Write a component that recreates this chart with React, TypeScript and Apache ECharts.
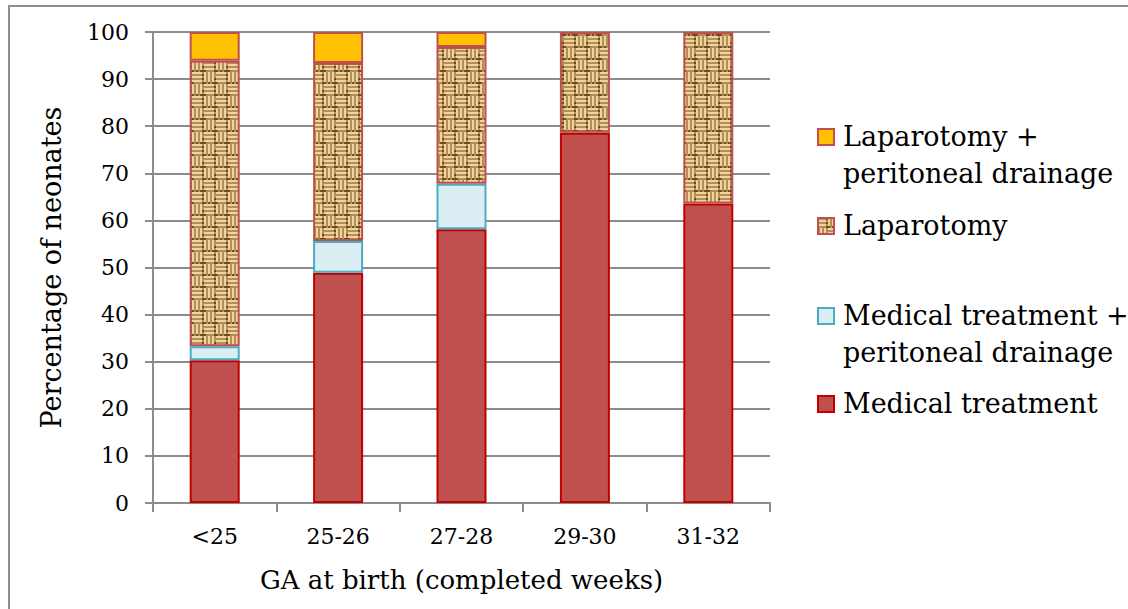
import React, { useEffect, useRef } from "react";
import * as echarts from "echarts";

const categories = ["<25", "25-26", "27-28", "29-30", "31-32"];
const medicalTreatment = [30.3, 48.9, 58.1, 78.6, 63.6];
const medicalPlusDrainage = [3.0, 6.7, 9.7, 0, 0];
const laparotomy = [60.6, 37.8, 29.0, 21.4, 36.4];
const laparotomyPlusDrainage = [6.1, 6.6, 3.2, 0, 0];
const yTicks = { min: 0, max: 100, interval: 10 };

const legendLabels = {
  lapPD: "Laparotomy +\nperitoneal drainage",
  lap: "Laparotomy",
  medPD: "Medical treatment +\nperitoneal drainage",
  med: "Medical treatment",
};

function makeTexture(): string {
  const tile = [
    "LLLLLMLMLMLM",
    "MMMMMDLMLMLM",
    "LLLLLMLMLMLM",
    "MMMMMDLMLMLD",
    "LLLLLMLMLMLM",
    "DMMMMDDMDMDD",
    "LMLMLMLLLLLM",
    "LMLMLMMMMMMD",
    "LMLMLMLLLLLM",
    "LMLMLDMMMMMD",
    "LMLMLMLLLLLM",
    "DMDMDDDMMMMD",
  ];
  const colors: Record<string, string> = { L: "#EED5A0", M: "#B48E55", D: "#6A4C25" };
  const s = 2;
  const c = document.createElement("canvas");
  c.width = 12 * s;
  c.height = 12 * s;
  const ctx = c.getContext("2d");
  if (ctx) {
    for (let y = 0; y < 12; y++) {
      for (let x = 0; x < 12; x++) {
        ctx.fillStyle = colors[tile[y][x]];
        ctx.fillRect(x * s, y * s, s, s);
      }
    }
  }
  return c.toDataURL();
}

const nz = (arr: number[]) => arr.map((v) => (v === 0 ? null : v));

export default function App() {
  const ref = useRef<HTMLDivElement>(null);
  useEffect(() => {
    document.body.style.margin = "0";
    if (!ref.current) return;
    const chart = echarts.init(ref.current, undefined, { renderer: "svg" });
    const tex = makeTexture();
    const texFill: any = { image: tex, repeat: "repeat", imageWidth: 24, imageHeight: 24 };
    const font = "DejaVu Serif";

    const legendItems = [
      { label: legendLabels.lapPD, fill: "#FFC000", stroke: "#C0504D", cy: 137 },
      { label: legendLabels.lap, fill: texFill, stroke: "#C0504D", cy: 226 },
      { label: legendLabels.medPD, fill: "#DAEEF3", stroke: "#4BACC6", cy: 316 },
      { label: legendLabels.med, fill: "#C0504D", stroke: "#C00000", cy: 404 },
    ];
    const graphics: any[] = [
      {
        type: "rect",
        shape: { x: 9, y: 6, width: 1300, height: 800 },
        style: { fill: "none", stroke: "#8E8E8E", lineWidth: 2 },
        silent: true,
      },
    ];
    legendItems.forEach((it) => {
      graphics.push({
        type: "rect",
        shape: { x: 818, y: it.cy - 8, width: 16, height: 16 },
        style: { fill: it.fill, stroke: it.stroke, lineWidth: 2 },
      });
      graphics.push({
        type: "text",
        x: 843,
        y: it.cy - 19,
        style: {
          text: it.label,
          font: `27px "${font}"`,
          fill: "#000",
          lineHeight: 37,
          textVerticalAlign: "top",
          verticalAlign: "top",
          align: "left",
        },
      });
    });

    const barW = 50;
    chart.setOption({
      animation: false,
      grid: { left: 153, top: 32, right: 358, bottom: 106, containLabel: false },
      xAxis: {
        type: "category",
        data: categories,
        name: "GA at birth (completed weeks)",
        nameLocation: "middle",
        nameGap: 64,
        nameTextStyle: { fontFamily: font, fontSize: 26, color: "#000" },
        axisLine: { lineStyle: { color: "#8C8C8C", width: 2 } },
        axisTick: { show: true, length: 9, lineStyle: { color: "#8C8C8C", width: 2 } },
        axisLabel: { fontFamily: font, fontSize: 22, color: "#000", margin: 22 },
      },
      yAxis: {
        type: "value",
        min: yTicks.min,
        max: yTicks.max,
        interval: yTicks.interval,
        name: "Percentage of neonates",
        nameLocation: "middle",
        nameGap: 88,
        nameTextStyle: { fontFamily: font, fontSize: 27, color: "#000" },
        axisLine: { show: true, lineStyle: { color: "#8C8C8C", width: 2 } },
        axisTick: { show: true, length: 8, lineStyle: { color: "#8C8C8C", width: 2 } },
        axisLabel: { fontFamily: font, fontSize: 22, color: "#000", margin: 24 },
        splitLine: { lineStyle: { color: "#8C8C8C", width: 2 } },
      },
      series: [
        {
          name: "Medical treatment",
          type: "bar",
          stack: "t",
          barWidth: barW,
          data: nz(medicalTreatment),
          itemStyle: { color: "#C0504D", borderColor: "#C00000", borderWidth: 2 },
        },
        {
          name: "Medical treatment + peritoneal drainage",
          type: "bar",
          stack: "t",
          barWidth: barW,
          data: nz(medicalPlusDrainage),
          itemStyle: { color: "#DAEEF3", borderColor: "#4BACC6", borderWidth: 2 },
        },
        {
          name: "Laparotomy",
          type: "bar",
          stack: "t",
          barWidth: barW,
          data: nz(laparotomy),
          itemStyle: { color: texFill, borderColor: "#C0504D", borderWidth: 2 },
        },
        {
          name: "Laparotomy + peritoneal drainage",
          type: "bar",
          stack: "t",
          barWidth: barW,
          data: nz(laparotomyPlusDrainage),
          itemStyle: { color: "#FFC000", borderColor: "#C0504D", borderWidth: 2 },
        },
      ],
      graphic: graphics,
    });
    return () => chart.dispose();
  }, []);
  return <div ref={ref} style={{ width: 1128, height: 609, background: "#fff" }} />;
}
